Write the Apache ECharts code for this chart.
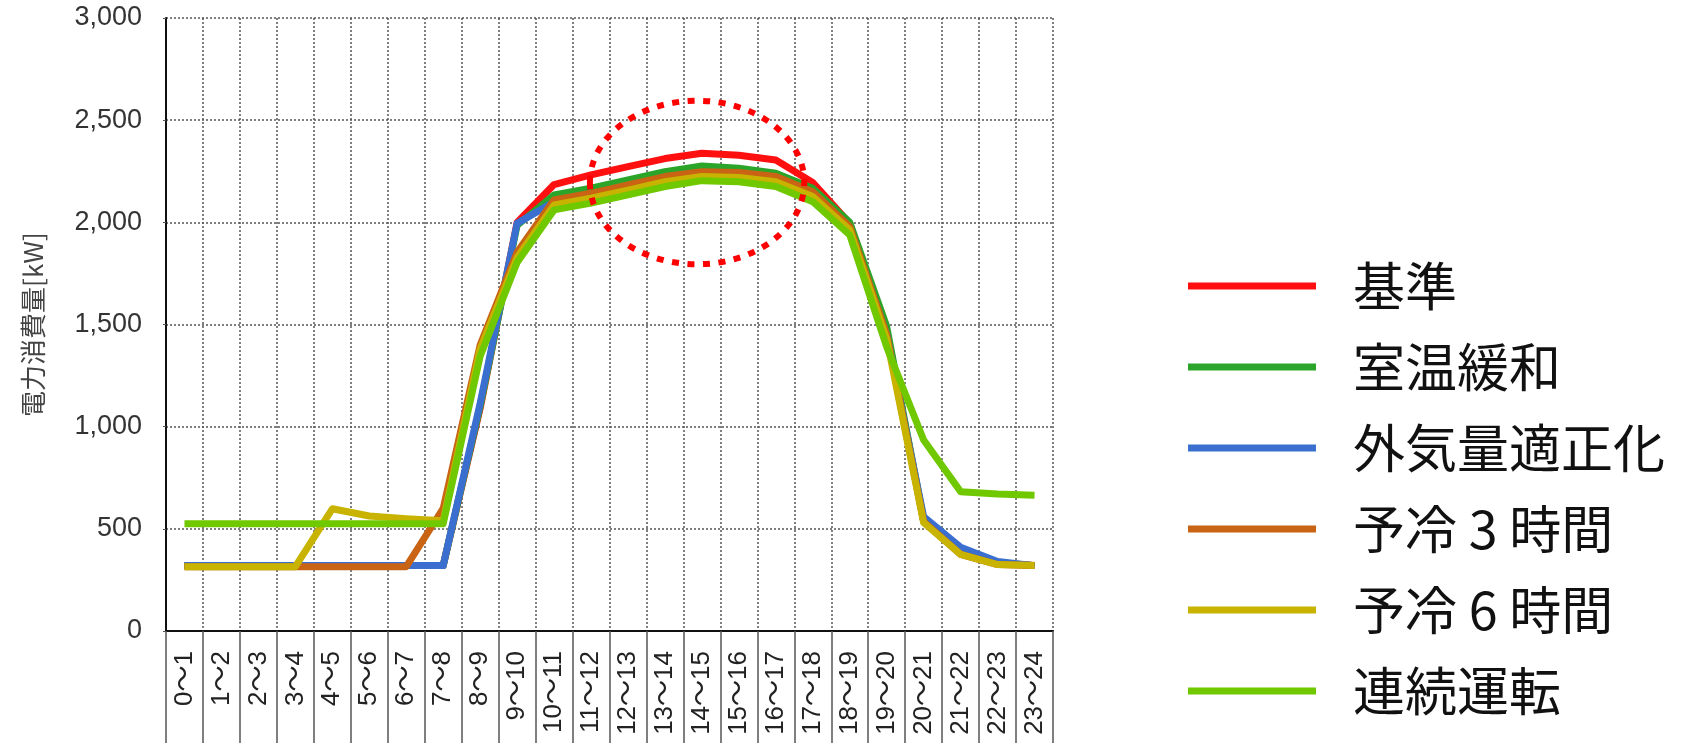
<!DOCTYPE html>
<html>
<head>
<meta charset="utf-8">
<script src="https://cdn.jsdelivr.net/npm/echarts@6/dist/echarts.min.js"></script>
<style>
  html, body { margin: 0; padding: 0; background: #ffffff; }
  #chart { width: 1690px; height: 751px; }
</style>
</head>
<body>
<div id="chart"></div>
<script>
// Hourly time slots (x axis)
const hours = ['0～1','1～2','2～3','3～4','4～5','5～6','6～7','7～8','8～9','9～10','10～11','11～12',
               '12～13','13～14','14～15','15～16','16～17','17～18','18～19','19～20','20～21','21～22','22～23','23～24'];

// Y axis ticks [kW]
const yTicks = [0, 500, 1000, 1500, 2000, 2500, 3000];

// Series names
const names = ['基準', '室温緩和', '外気量適正化', '予冷 3 時間', '予冷 6 時間', '連続運転'];

// Electric power consumption per hour [kW]
const kijun      = [320,320,320,320,320,320,320,320,1090,2000,2185,2232,2273,2312,2338,2328,2305,2195,1995,1460,540,380,330,320];
const shitsuon   = [320,320,320,320,320,320,320,320,1100,1985,2134,2167,2207,2248,2276,2265,2240,2167,2000,1490,545,385,335,320];
const gaikiryo   = [320,320,320,320,320,320,320,320,1115,1995,2100,2135,2175,2215,2240,2236,2215,2142,1970,1450,560,410,340,320];
const yorei3     = [315,315,315,315,315,315,315,600,1400,1853,2110,2142,2183,2224,2248,2244,2224,2150,1979,1450,535,375,325,320];
const yorei6     = [315,315,315,315,598,563,550,540,1380,1828,2085,2118,2158,2199,2224,2220,2199,2126,1963,1430,530,375,325,320];
const renzoku    = [525,525,525,525,525,525,525,525,1345,1804,2061,2094,2134,2175,2204,2199,2175,2101,1938,1390,935,682,670,664];

const values = [kijun, shitsuon, gaikiryo, yorei3, yorei6, renzoku];
const colors = ['#ff1010', '#2aa52a', '#3a6fd0', '#c86414', '#c8b400', '#70c800'];

const chart = echarts.init(document.getElementById('chart'), null, { renderer: 'canvas' });

const gridLine = { show: true, lineStyle: { color: '#555', width: 1.5, type: [2, 2] } };

chart.setOption({
  animation: false,
  backgroundColor: '#ffffff',
  grid: { left: 166, right: 637, top: 18, bottom: 120, containLabel: false },
  legend: {
    orient: 'vertical',
    left: 1183,
    top: 255,
    icon: 'rect',
    itemWidth: 128,
    itemHeight: 7,
    itemGap: 29,
    data: names,
    textStyle: {
      fontFamily: '"Noto Sans CJK JP", sans-serif',
      fontSize: 52,
      lineHeight: 52,
      color: '#111',
      padding: [0, 0, 0, 32]
    }
  },
  xAxis: {
    type: 'category',
    data: hours,
    boundaryGap: true,
    axisLine: { show: true, lineStyle: { color: '#111', width: 2 } },
    axisTick: { show: true, length: 112, lineStyle: { color: '#555', width: 1.5 } },
    axisLabel: {
      rotate: 90,
      interval: 0,
      margin: 20,
      fontFamily: '"Liberation Sans", "Noto Sans CJK JP", sans-serif',
      fontSize: 26,
      color: '#222'
    },
    splitLine: gridLine
  },
  yAxis: {
    type: 'value',
    min: yTicks[0],
    max: yTicks[yTicks.length - 1],
    interval: yTicks[1] - yTicks[0],
    name: '電力消費量[kW]',
    nameLocation: 'middle',
    nameGap: 120,
    nameTextStyle: {
      fontFamily: '"Noto Sans CJK JP", sans-serif',
      fontSize: 26,
      color: '#444'
    },
    axisLine: { show: true, lineStyle: { color: '#111', width: 2 } },
    axisTick: { show: true, length: 3, lineStyle: { color: '#555' } },
    axisLabel: {
      margin: 24,
      fontFamily: '"Liberation Sans", sans-serif',
      fontSize: 27,
      color: '#333',
      formatter: v => v.toLocaleString('en-US')
    },
    splitLine: gridLine
  },
  series: names.map((n, i) => ({
    name: n,
    type: 'line',
    data: values[i],
    color: colors[i],
    symbol: 'none',
    lineStyle: { width: 7, color: colors[i], join: 'round' },
    z: 2 + i
  }))
});

// Dotted red ellipse highlighting the midday peak, placed with the chart's own scales
const c0 = chart.convertToPixel({ xAxisIndex: 0 }, hours[0]);
const c1 = chart.convertToPixel({ xAxisIndex: 0 }, hours[1]);
const catW = c1 - c0;
const cx = chart.convertToPixel({ xAxisIndex: 0 }, hours[14]) - catW * 0.13;
const cy = chart.convertToPixel({ yAxisIndex: 0 }, 2195);
const ryTop = chart.convertToPixel({ yAxisIndex: 0 }, 2595);
chart.setOption({
  graphic: [{
    type: 'ellipse',
    shape: { cx: cx, cy: cy, rx: catW * 2.9, ry: cy - ryTop },
    style: { fill: 'none', stroke: '#ff0000', lineWidth: 6, lineDash: [7, 8.5] },
    z: 100
  }]
});
</script>
</body>
</html>
